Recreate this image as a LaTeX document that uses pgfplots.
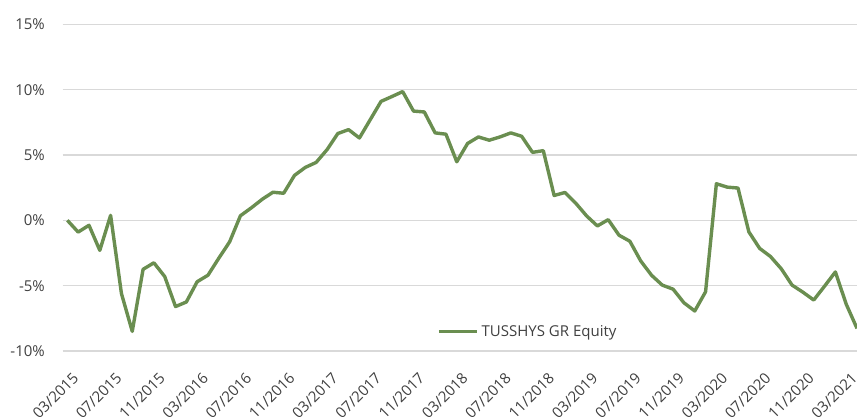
\documentclass[border=0pt]{standalone}
\usepackage{fontspec}
\setmainfont{Open Sans}
\usepackage{pgfplots}
\pgfplotsset{compat=1.18}
\definecolor{linegreen}{RGB}{106,142,80}
\definecolor{gridgray}{RGB}{217,217,217}
\definecolor{txt}{RGB}{64,64,64}
\begin{document}
\begin{tikzpicture}
\useasboundingbox (-62.7pt,-66pt) rectangle (794.3pt,351pt);
\begin{axis}[
  at={(0pt,0pt)}, anchor=south west,
  scale only axis,
  width=794.3pt, height=326.7pt,
  xmin=-0.43, xmax=73,
  ymin=-10, ymax=15,
  axis line style={draw=none},
  major tick length=0pt,
  ymajorgrids,
  grid style={gridgray, line width=1.2pt},
  ytick={-10,-5,0,5,10,15},
  yticklabels={-10\%,-5\%,0\%,5\%,10\%,15\%},
  xtick={0,4,...,72},
  xticklabels={03/2015,07/2015,11/2015,03/2016,07/2016,11/2016,03/2017,07/2017,11/2017,03/2018,07/2018,11/2018,03/2019,07/2019,11/2019,03/2020,07/2020,11/2020,03/2021},
  /pgf/number format/assume math mode=true,
  yticklabel style={font=\fontsize{15}{18}\selectfont, text=txt, anchor=east, inner sep=0pt, xshift=-17.7pt},
  xticklabel style={font=\fontsize{15}{18}\selectfont, text=txt, xshift=4.3pt, yshift=-20.7pt, rotate=45, anchor=north east, inner sep=0pt},
  legend style={at={(0.4716,0.0591)}, anchor=west, draw=none, fill=none, inner sep=0pt, outer sep=0pt,
    font=\fontsize{15}{18}\selectfont, text=txt,
    nodes={inner sep=0pt}, column sep=3.3pt},
  legend image code/.code={\draw[#1, line width=3.4pt] (0pt,0pt) -- (37.7pt,0pt);},
]
\addplot[linegreen, line width=3.4pt, line join=round, no markers] coordinates {
(0,0.0) (1,-0.9) (2,-0.38) (3,-2.3) (4,0.38) (5,-5.6) (6,-8.5) (7,-3.75) (8,-3.25) (9,-4.3)
(10,-6.6) (11,-6.25) (12,-4.7) (13,-4.2) (14,-2.9) (15,-1.65) (16,0.35) (17,0.95) (18,1.6) (19,2.15)
(20,2.07) (21,3.44) (22,4.05) (23,4.43) (24,5.4) (25,6.64) (26,6.94) (27,6.3) (28,7.7) (29,9.1)
(30,9.47) (31,9.85) (32,8.36) (33,8.29) (34,6.69) (35,6.59) (36,4.48) (37,5.88) (38,6.38) (39,6.13)
(40,6.38) (41,6.69) (42,6.43) (43,5.2) (44,5.33) (45,1.9) (46,2.13) (47,1.31) (48,0.34) (49,-0.43)
(50,0.05) (51,-1.14) (52,-1.6) (53,-3.1) (54,-4.2) (55,-4.96) (56,-5.27) (57,-6.31) (58,-6.94) (59,-5.47)
(60,2.8) (61,2.54) (62,2.47) (63,-0.88) (64,-2.15) (65,-2.77) (66,-3.71) (67,-4.96) (68,-5.5) (69,-6.1)
(70,-5.04) (71,-3.95) (72,-6.41) (73,-8.27)
};
\addlegendentry{TUSSHYS GR Equity}
\end{axis}
\end{tikzpicture}
\end{document}
